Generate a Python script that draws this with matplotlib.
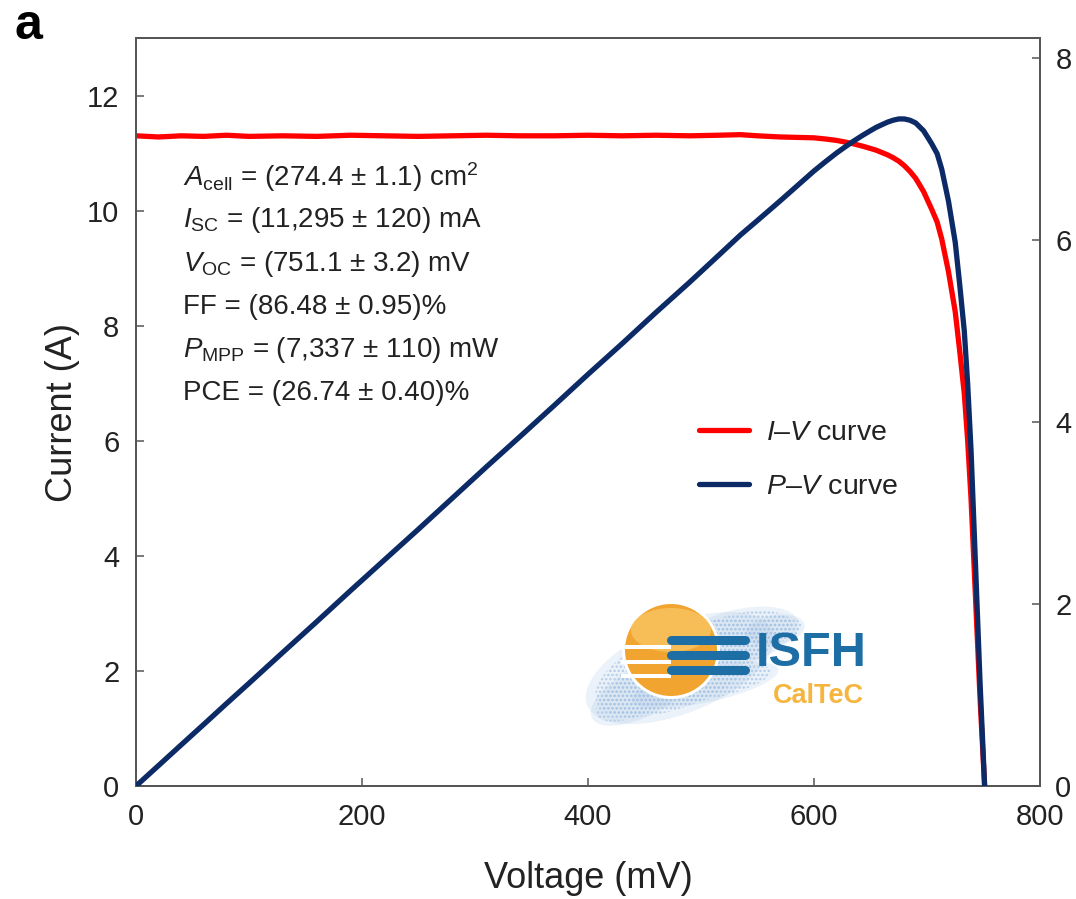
import numpy as np
import matplotlib
matplotlib.use("Agg")
import matplotlib.pyplot as plt
import matplotlib.patches as mpatches

plt.rcParams["font.family"] = ["Liberation Sans", "DejaVu Sans"]
plt.rcParams["mathtext.fontset"] = "custom"
plt.rcParams["mathtext.rm"] = "Liberation Sans"
plt.rcParams["mathtext.it"] = "Liberation Sans:italic"
plt.rcParams["mathtext.bf"] = "Liberation Sans:bold"
plt.rcParams["hatch.linewidth"] = 1.2

# measured I-V sweep of the full-size cell
voltage_mV = [0, 20, 40, 60, 80, 100, 130, 160, 190, 220, 250, 280, 310, 340, 370,
              400, 430, 460, 490, 515, 535, 550, 570, 590, 600, 610, 620, 628, 635,
              643, 650, 655, 660, 665, 670, 675, 680, 685, 690, 697, 704, 709, 713,
              719, 725, 729, 733, 736, 739, 743, 747, 751]
current_A = [11.30, 11.28, 11.30, 11.29, 11.31, 11.29, 11.30, 11.29, 11.31, 11.30,
             11.29, 11.30, 11.31, 11.30, 11.30, 11.31, 11.30, 11.31, 11.30, 11.31,
             11.32, 11.30, 11.28, 11.27, 11.265, 11.245, 11.22, 11.19, 11.16,
             11.12, 11.08, 11.05, 11.01, 10.97, 10.92, 10.86, 10.78, 10.68, 10.56,
             10.33, 10.03, 9.80, 9.51, 8.94, 8.24, 7.55, 6.82, 6.00, 4.98, 3.24,
             1.50, 0.00]

x_ticks = [0, 200, 400, 600, 800]
i_ticks = [0, 2, 4, 6, 8, 10, 12]
p_ticks = [0, 2, 4, 6, 8]

stats_lines = [
    r"$A_{\mathrm{cell}}$ = (274.4 ± 1.1) cm$^{2}$",
    r"$I_{\mathrm{SC}}$ = (11,295 ± 120) mA",
    r"$V_{\mathrm{OC}}$ = (751.1 ± 3.2) mV",
    "FF = (86.48 ± 0.95)%",
    r"$P_{\mathrm{MPP}}$ = (7,337 ± 110) mW",
    "PCE = (26.74 ± 0.40)%",
]

RED = "#ff0000"
NAVY = "#0b2a66"
SPINE = "#555555"
INK = "#222222"

V = np.array(voltage_mV, dtype=float)
I = np.array(current_A, dtype=float)
P = V * I / 1000.0  # power in W

fig = plt.figure(figsize=(10.76, 8.99), dpi=100)
ax = fig.add_axes([136 / 1076, 113 / 899, 904 / 1076, 748 / 899])
ax2 = ax.twinx()

l_iv, = ax.plot(V, I, color=RED, lw=3.8, solid_capstyle="round",
                solid_joinstyle="round", zorder=3)
l_pv, = ax2.plot(V, P, color=NAVY, lw=3.8, solid_capstyle="round",
                 solid_joinstyle="round", zorder=3)

ax.set_xlim(0, 800)
ax.set_ylim(0, 13)
ax2.set_ylim(0, 8.22)
ax.set_xticks(x_ticks)
ax.set_yticks(i_ticks)
ax2.set_yticks(p_ticks)

for a in (ax, ax2):
    for s in a.spines.values():
        s.set_color(SPINE)
        s.set_linewidth(1.3)
ax.tick_params(axis="both", direction="in", length=6, width=1.1, color=SPINE,
               labelsize=21, labelcolor=INK, pad=12)
ax2.tick_params(axis="y", direction="in", length=6, width=1.1, color=SPINE,
                labelsize=21, labelcolor=INK, pad=11)

ax.set_xlabel("Voltage (mV)", fontsize=26, color=INK, labelpad=22)
ax.set_ylabel("Current (A)", fontsize=26, color=INK, labelpad=5)

# parameter block
for k, txt in enumerate(stats_lines):
    ax.text(0.052, 0.814 - k * 0.0578, txt, transform=ax.transAxes,
            fontsize=20, color=INK, ha="left", va="center")

leg = ax2.legend([l_iv, l_pv],
                 [r"$I$–$V$ curve", r"$P$–$V$ curve"],
                 loc="upper left", bbox_to_anchor=(0.61, 0.505), frameon=False,
                 fontsize=20.5, handlelength=1.75, handletextpad=0.6,
                 labelspacing=1.0, borderaxespad=0)
for t in leg.get_texts():
    t.set_color(INK)

fig.text(14 / 1076, 1 - 26 / 899, "a", fontsize=36, fontweight="heavy",
         ha="left", va="center")

# ISFH CalTeC logo, drawn in its own pixel-sized frame
lg = fig.add_axes([575 / 1076, (899 - 735) / 899, 310 / 1076, 145 / 899])
lg.set_xlim(0, 310)
lg.set_ylim(145, 0)
lg.axis("off")
haze = "#a8c4e4"
for (cx, cy, w, h, ang) in [(105, 78, 200, 90, -22),
                            (70, 100, 120, 50, -28),
                            (160, 48, 130, 55, -15),
                            (130, 95, 150, 35, -12),
                            (200, 40, 60, 30, -10)]:
    lg.add_patch(mpatches.Ellipse((cx, cy), w, h, angle=ang, facecolor=haze,
                                  edgecolor="none", alpha=0.22))
    lg.add_patch(mpatches.Ellipse((cx, cy), w * 0.9, h * 0.85, angle=ang,
                                  facecolor="none", edgecolor=haze, hatch="....",
                                  lw=0, alpha=0.8))
lg.add_patch(mpatches.Circle((96, 60), 49, facecolor="white", edgecolor="none"))
lg.add_patch(mpatches.Circle((96, 60), 46, facecolor="#f2a431", edgecolor="none"))
lg.add_patch(mpatches.Ellipse((96, 40), 80, 44, facecolor="#f9c765",
                              edgecolor="none", alpha=0.75))
for sy in (57, 72, 86):
    lg.add_patch(mpatches.Rectangle((46, sy - 2), 50, 4, facecolor="white",
                                    edgecolor="none"))
for by in (50, 65, 80):
    lg.plot([96, 170], [by, by], color="#1c6ea4", lw=6.5, solid_capstyle="round")
lg.text(236, 64, "ISFH", fontsize=35, fontweight="bold", color="#1c6ea4",
        ha="center", va="center")
lg.text(243, 106, "CalTeC", fontsize=19.5, fontweight="bold", color="#f5b53f",
        ha="center", va="center")

fig.savefig("out.png", dpi=100, facecolor="white")
